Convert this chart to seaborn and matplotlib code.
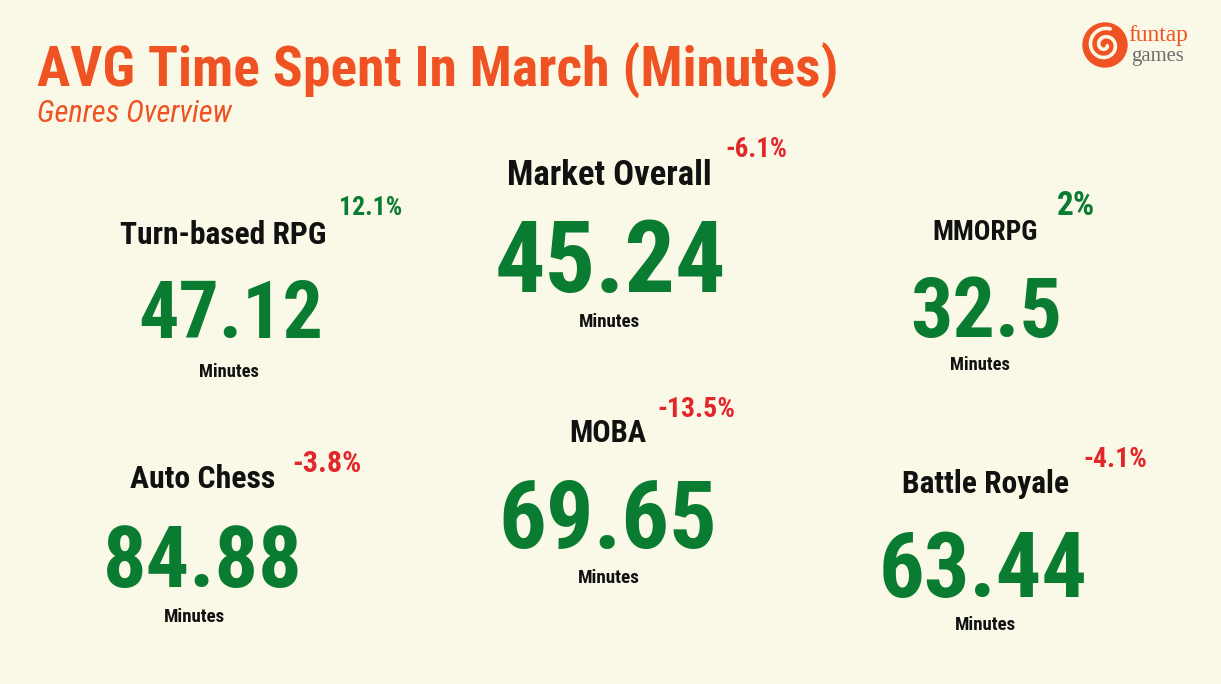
import numpy as np
import matplotlib.pyplot as plt
import seaborn as sns
from matplotlib import font_manager
from matplotlib.patches import Circle

# data
genres = ['Market Overall', 'Turn-based RPG', 'MMORPG', 'Auto Chess', 'MOBA', 'Battle Royale']
avg_minutes = [45.24, 47.12, 32.5, 84.88, 69.65, 63.44]
change_pct = [-6.1, 12.1, 2.0, -3.8, -13.5, -4.1]
unit = 'Minutes'
title = 'AVG Time Spent In March (Minutes)'
subtitle = 'Genres Overview'

# layout in pixels: (left, right, baseline)
label_box = [(507, 711, 185), (120, 327, 244), (933, 1038, 240),
             (130, 275, 488), (569, 646, 442), (902, 1069, 493)]
value_box = [(505, 715, 292), (147, 315, 338), (917, 1055, 337),
             (112, 293, 587), (508, 707, 548), (888, 1078, 597)]
unit_box = [(579, 640, 327), (199, 259, 377), (950, 1010, 370),
            (164, 225, 622), (578, 640, 583), (955, 1016, 630)]
change_box = [(725, 787, 157), (339, 402, 215), (1057, 1095, 215),
              (292, 361, 472), (657, 735, 417), (1083, 1147, 467)]

BG = '#FAF8E6'
ORANGE = '#F05323'
GREEN = '#0A7C32'
RED = '#E2272B'
INK = '#111111'

sns.set_theme(style='white')
installed = {f.name for f in font_manager.fontManager.ttflist}
cond = [f for f in ['Roboto Condensed', 'Liberation Sans Narrow', 'DejaVu Sans'] if f in installed]
plt.rcParams['font.family'] = cond + ['DejaVu Sans']
plt.rcParams['font.stretch'] = 'condensed'

fig = plt.figure(figsize=(12.21, 6.84), dpi=100, facecolor=BG)
ax = fig.add_axes([0, 0, 1, 1])
ax.set_xlim(0, 1221)
ax.set_ylim(684, 0)
ax.set_facecolor(BG)
ax.axis('off')
renderer = fig.canvas.get_renderer()


def fit_text(s, box, color, weight='bold', style='normal', family=None, grow=1.0):
    # scale font so the text spans the box width (times grow), centred on the box
    x0, x1, base = box
    kw = dict(ha='center', va='baseline', color=color, fontweight=weight,
              fontstyle=style, fontsize=40)
    if family:
        kw['family'] = family
    t = ax.text((x0 + x1) / 2, base, s, **kw)
    w = t.get_window_extent(renderer).width
    t.set_fontsize(40 * grow * (x1 - x0) / w)
    return t


t = fit_text(title, (37, 838, 87), ORANGE)
t.set_ha('left'); t.set_x(37)
t = fit_text(subtitle, (37, 232, 122), ORANGE, weight='normal', style='italic')
t.set_ha('left'); t.set_x(37)

for i, g in enumerate(genres):
    fit_text(g, label_box[i], INK)
    fit_text(f'{avg_minutes[i]:g}', value_box[i], GREEN, weight='black', grow=1.1)
    fit_text(unit, unit_box[i], INK)
    c = change_pct[i]
    fit_text(f'{c:g}%', change_box[i], GREEN if c > 0 else RED, weight='semibold')

# logo
ax.add_patch(Circle((1105, 45), 22, color=ORANGE, zorder=2))
th = np.linspace(0.3, 3.6 * np.pi, 200)
r = 2 + 15 * th / th.max()
ax.plot(1105 + r * np.cos(th), 45 + r * np.sin(th), color=BG, lw=2.6, zorder=3,
        solid_capstyle='round')
serif = ['Liberation Serif', 'DejaVu Serif']
fit_text('funtap', (1128, 1188, 41), ORANGE, weight='normal', family=serif)
fit_text('games', (1131, 1184, 61), '#6B6B6B', weight='normal', family=serif)

fig.savefig('out.png', dpi=100, facecolor=BG)
